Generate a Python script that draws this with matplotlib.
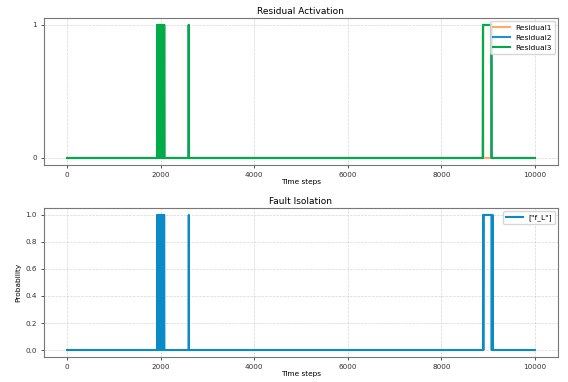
import numpy as np
import matplotlib
matplotlib.use('Agg')
import matplotlib.pyplot as plt

# time axis
n_steps = 10001

# on-intervals (start, end)
burst = [(1925, 1931), (1936, 1943), (1947, 1955), (1959, 1966), (1971, 1980),
         (1984, 1991), (1995, 2004), (2008, 2015), (2020, 2029), (2033, 2041),
         (2046, 2054), (2058, 2067), (2071, 2078)]
res1_on = burst + [(2600, 2604), (8890, 8896), (9064, 9072)]
res2_on = burst + [(2600, 2604), (8890, 9072)]
res3_on = burst + [(2600, 2604), (8890, 9072)]
fault_on = burst + [(2600, 2604), (8892, 8896), (8900, 9076), (9080, 9086), (9090, 9096)]

residual_labels = ['Residual1', 'Residual2', 'Residual3']
fault_label = '["f_L"]'


def to_signal(intervals):
    s = np.zeros(n_steps)
    for a, b in intervals:
        s[a:b + 1] = 1
    return s


t = np.arange(n_steps)
residuals = [to_signal(res1_on), to_signal(res2_on), to_signal(res3_on)]
fault = to_signal(fault_on)

colors = ['#ffaa66', '#1f8fd0', '#00ac47']

fig = plt.figure(figsize=(5.68, 3.82), dpi=100)
ax1 = fig.add_axes([0.0768, 0.569, 0.906, 0.383])
ax2 = fig.add_axes([0.0768, 0.066, 0.906, 0.389])

for sig, lab, c in zip(residuals, residual_labels, colors):
    ax1.plot(t, sig, color=c, linewidth=1.5, label=lab)
ax1.set_yticks([0, 1])
ax1.set_title('Residual Activation', fontsize=6.5, pad=3)
ax1.set_xlabel('Time steps', fontsize=5.3, labelpad=1)
ax1.legend(loc='upper right', fontsize=5.4, borderaxespad=0.4, handlelength=2.2,
           labelspacing=0.5)

ax2.plot(t, fault, color='#0a8ac6', linewidth=1.5, label=fault_label)
ax2.set_yticks([0.0, 0.2, 0.4, 0.6, 0.8, 1.0])
ax2.set_title('Fault Isolation', fontsize=6.5, pad=3)
ax2.set_xlabel('Time steps', fontsize=5.3, labelpad=1)
ax2.set_ylabel('Probability', fontsize=5.3, labelpad=3)
ax2.legend(loc='upper right', fontsize=5.4, borderaxespad=0.4, handlelength=2.2)

for ax in (ax1, ax2):
    ax.set_xticks([0, 2000, 4000, 6000, 8000, 10000])
    ax.tick_params(labelsize=5.2, length=2.5, width=0.6, colors='#333333', pad=2.5)
    ax.grid(True, linestyle='--', color='#cccccc', linewidth=0.5, alpha=0.8)
    for sp in ax.spines.values():
        sp.set_color('#777777')
        sp.set_linewidth(0.8)

fig.savefig('out.png', dpi=100)
